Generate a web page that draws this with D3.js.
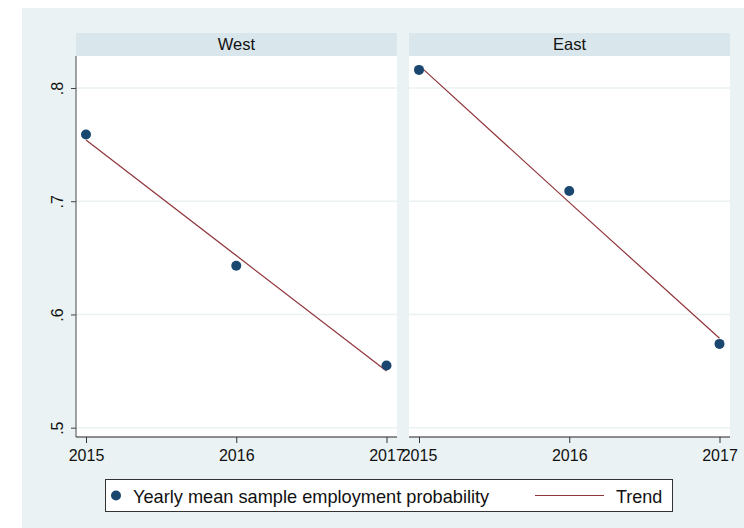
<!DOCTYPE html>
<html>
<head>
<meta charset="utf-8">
<script src="https://cdn.jsdelivr.net/npm/d3@7"></script>
<style>
  body { margin: 0; background: #ffffff; }
  svg { display: block; font-family: "Liberation Sans", Arial, sans-serif; }
</style>
</head>
<body>
<div id="chart"></div>
<script>
// data
const panels = ["West", "East"];
const years = [2015, 2016, 2017];
const meanWest = [0.759, 0.643, 0.555];
const meanEast = [0.816, 0.709, 0.574];
const trendWest = [0.754, 0.652, 0.550];
const trendEast = [0.820, 0.699, 0.579];
const yTicks = [0.5, 0.6, 0.7, 0.8];
const yTickLabels = [".5", ".6", ".7", ".8"];
const legendLabels = ["Yearly mean sample employment probability", "Trend"];

const W = 744, H = 528;
const navy = "#1a476f", maroon = "#90353b";
const bg = "#eaf2f3", strip = "#d9e6eb";

// panel geometry
const panelLeft = [76, 409], panelW = 321, pad = 10;
const stripTop = 33, plotTop = 56, plotBottom = 437;

const svg = d3.select("#chart").append("svg")
    .attr("width", W)
    .attr("height", H);

// graph region
svg.append("rect")
    .attr("x", 22).attr("y", 8)
    .attr("width", W - 22).attr("height", H - 8)
    .attr("fill", bg);

const y = d3.scaleLinear().domain([0.5, 0.8]).range([427.7, 88]);

const series = [
  { name: panels[0], mean: meanWest, trend: trendWest },
  { name: panels[1], mean: meanEast, trend: trendEast }
];

series.forEach((s, i) => {
    const left = panelLeft[i];
    const x = d3.scaleLinear().domain([2015, 2017]).range([left + pad, left + panelW - pad - 0.5]);
    const g = svg.append("g");

    // strip header
    g.append("rect")
        .attr("x", left).attr("y", stripTop)
        .attr("width", panelW).attr("height", plotTop - stripTop)
        .attr("fill", strip);
    g.append("text")
        .attr("x", left + panelW / 2).attr("y", 49.5)
        .attr("text-anchor", "middle")
        .style("font-size", "16.5px")
        .style("fill", "#111")
        .text(s.name);

    // plot area
    g.append("rect")
        .attr("x", left).attr("y", plotTop)
        .attr("width", panelW).attr("height", plotBottom - plotTop)
        .attr("fill", "#fff");

    // grid
    g.selectAll(".grid")
        .data(yTicks)
        .enter().append("line")
        .attr("x1", left).attr("x2", left + panelW)
        .attr("y1", d => y(d)).attr("y2", d => y(d))
        .attr("stroke", bg)
        .attr("stroke-width", 1.5);

    // y axis only on first panel
    if (i === 0) {
        g.append("line")
            .attr("x1", left).attr("x2", left)
            .attr("y1", plotTop).attr("y2", plotBottom)
            .attr("stroke", "#666").attr("stroke-width", 1.2);
        const ya = g.append("g")
            .attr("transform", `translate(${left},0)`)
            .call(d3.axisLeft(y).tickValues(yTicks).tickSize(5).tickFormat((d, k) => yTickLabels[k]));
        ya.select(".domain").remove();
        ya.selectAll("line").attr("stroke", "#444");
        ya.selectAll("text")
            .attr("x", null).attr("dy", null)
            .attr("text-anchor", "middle")
            .attr("transform", "translate(-13,0) rotate(-90)")
            .style("font-size", "16px")
            .style("font-family", "Liberation Sans, Arial, sans-serif")
            .style("fill", "#111");
    }

    // x axis
    g.append("line")
        .attr("x1", left).attr("x2", left + panelW)
        .attr("y1", plotBottom).attr("y2", plotBottom)
        .attr("stroke", "#222").attr("stroke-width", 1.2);
    const xa = g.append("g")
        .attr("transform", `translate(0,${plotBottom})`)
        .call(d3.axisBottom(x).tickValues(years).tickSize(6).tickFormat(d3.format("d")));
    xa.select(".domain").remove();
    xa.selectAll("line").attr("stroke", "#333");
    xa.selectAll("text")
        .attr("y", 24).attr("dy", null)
        .style("font-size", "16px")
        .style("font-family", "Liberation Sans, Arial, sans-serif")
        .style("fill", "#111");

    // trend line
    g.append("path")
        .datum(years.map((yr, k) => [yr, s.trend[k]]))
        .attr("d", d3.line().x(d => x(d[0])).y(d => y(d[1])))
        .attr("fill", "none")
        .attr("stroke", maroon)
        .attr("stroke-width", 1.2);

    // points
    g.selectAll(".pt")
        .data(years.map((yr, k) => [yr, s.mean[k]]))
        .enter().append("circle")
        .attr("cx", d => x(d[0]))
        .attr("cy", d => y(d[1]))
        .attr("r", 5)
        .attr("fill", navy);
});

// legend
const legend = svg.append("g");
legend.append("rect")
    .attr("x", 105.5).attr("y", 479.5)
    .attr("width", 567).attr("height", 32)
    .attr("fill", "#fff")
    .attr("stroke", "#333")
    .attr("stroke-width", 1);
legend.append("circle")
    .attr("cx", 116).attr("cy", 495.5).attr("r", 5)
    .attr("fill", navy);
legend.append("text")
    .attr("x", 133).attr("y", 502.5)
    .style("font-size", "18.2px")
    .style("fill", "#111")
    .text(legendLabels[0]);
legend.append("line")
    .attr("x1", 535).attr("x2", 604)
    .attr("y1", 495.5).attr("y2", 495.5)
    .attr("stroke", maroon).attr("stroke-width", 1.2);
legend.append("text")
    .attr("x", 616).attr("y", 502.5)
    .style("font-size", "18px")
    .style("fill", "#111")
    .text(legendLabels[1]);
</script>
</body>
</html>
